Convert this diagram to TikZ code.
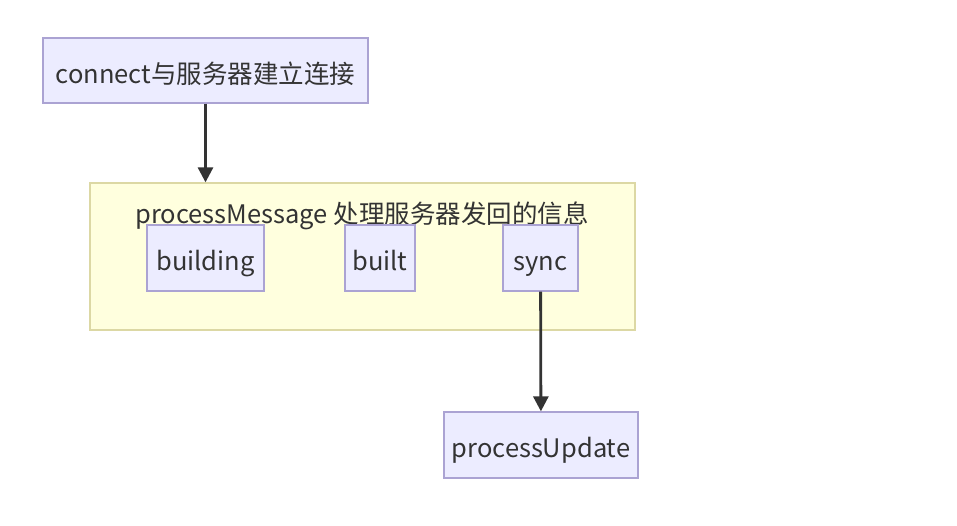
\documentclass[tikz,border=0pt]{standalone}
\usepackage{fontspec}
\setmainfont{Noto Sans CJK SC}
\usetikzlibrary{arrows.meta}
\definecolor{boxfill}{HTML}{ECECFF}
\definecolor{boxline}{HTML}{ABA3D3}
\definecolor{groupfill}{HTML}{FFFFDE}
\definecolor{groupline}{HTML}{DCD8A4}
\definecolor{txt}{HTML}{333333}
\begin{document}
\begin{tikzpicture}[x=1pt, y=-1pt,
  box/.style={draw=boxline, fill=boxfill, line width=1.3pt, inner sep=0pt, minimum height=66pt, text height=25pt, text depth=0pt, text=txt, font=\fontsize{25.5}{30}\selectfont},
  flow/.style={draw=txt, line width=2.8pt, -{Triangle[width=15pt, length=15pt]}}]
  \useasboundingbox [fill=white] (0,0) rectangle (957,525);
  \node (connect) [box, minimum width=325pt, minimum height=65pt] at (205.5,70.5) {connect与服务器建立连接};
  \node (msg) [draw=groupline, fill=groupfill, line width=1.3pt, minimum width=545pt, minimum height=147pt] at (362.5,256.5) {};
  \node (title) [text=txt, font=\fontsize{25.5}{30}\selectfont] at (362,216) {processMessage 处理服务器发回的信息};
  \node (building) [box, minimum width=117pt] at (205.5,258) {building};
  \node (built) [box, minimum width=70pt] at (380,258) {built};
  \node (sync) [box, minimum width=75pt] at (540.5,258) {sync};
  \node (update) [box, minimum width=194pt] at (541,445) {processUpdate};
  \draw [flow] (connect.south) -- (connect.south |- msg.north);
  \draw [flow] (sync) -- (update);
\end{tikzpicture}
\end{document}
